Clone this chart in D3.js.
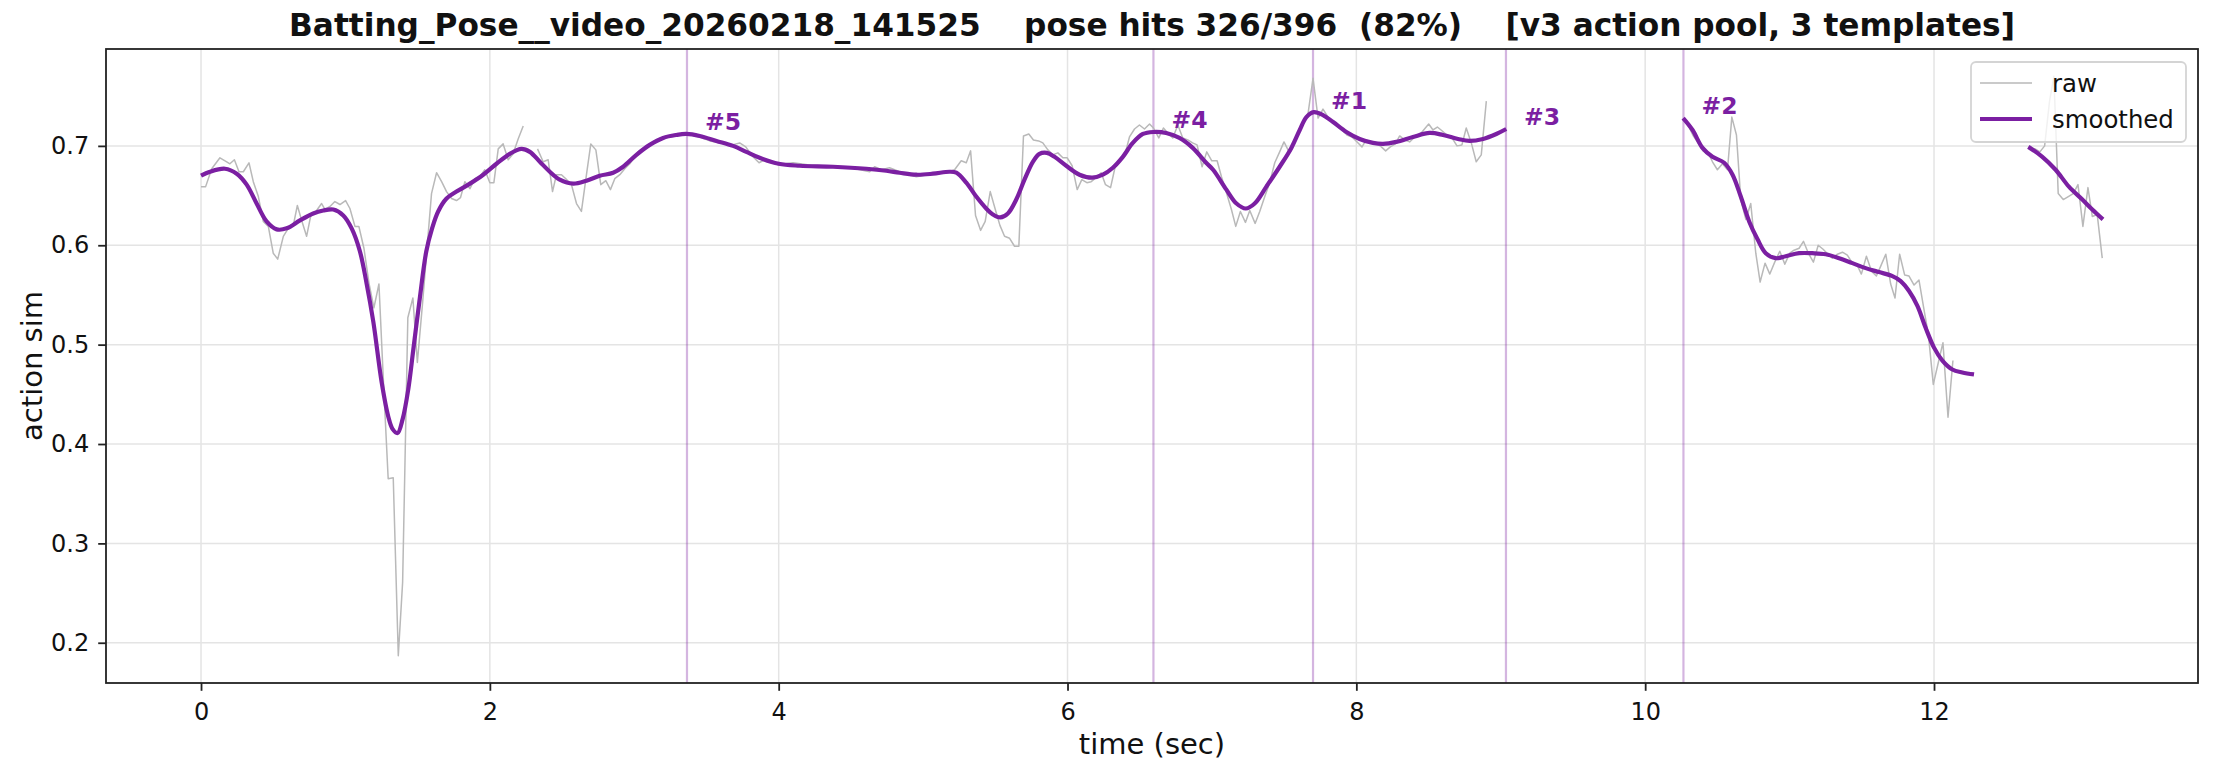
<!DOCTYPE html>
<html><head><meta charset="utf-8">
<script src="https://cdn.jsdelivr.net/npm/d3@7"></script>
<style>body{margin:0;background:#fff}svg{display:block}</style>
</head><body>
<svg id="chart" width="2213" height="775"></svg>
<script>
// ---------- data ----------
const titleText = "Batting_Pose__video_20260218_141525    pose hits 326/396  (82%)    [v3 action pool, 3 templates]";
const xTicks = [0, 2, 4, 6, 8, 10, 12];
const yTicks = [0.2, 0.3, 0.4, 0.5, 0.6, 0.7];

const rawTime = [0.000,0.032,0.074,0.131,0.178,0.200,0.231,0.263,0.293,0.332,0.362,0.397,0.431,0.466,0.500,0.531,0.570,0.604,0.639,0.667,0.697,0.731,0.759,0.800,0.835,0.858,0.893,0.927,0.962,1.001,1.031,1.066,1.093,1.128,1.163,1.197,1.232,1.264,1.296,1.331,1.366,1.396,1.432,1.467,1.498,1.533,1.566,1.596,1.631,1.666,1.700,1.735,1.769,1.797,1.827,1.862,1.896,1.931,1.965,2.000,2.028,2.058,2.092,2.127,2.161,2.196,2.231,2.264,2.330,2.369,2.404,2.434,2.461,2.496,2.526,2.565,2.600,2.634,2.669,2.699,2.734,2.768,2.803,2.835,2.865,2.900,2.934,2.969,3.026,3.107,3.200,3.292,3.361,3.453,3.523,3.600,3.680,3.730,3.772,3.822,3.864,3.903,3.949,4.000,4.099,4.200,4.300,4.400,4.500,4.630,4.664,4.710,4.768,4.837,4.953,5.068,5.160,5.218,5.264,5.299,5.329,5.363,5.398,5.430,5.465,5.500,5.532,5.564,5.599,5.633,5.663,5.695,5.732,5.764,5.800,5.829,5.864,5.898,5.933,5.968,5.998,6.032,6.067,6.099,6.134,6.164,6.198,6.233,6.263,6.298,6.330,6.365,6.395,6.429,6.464,6.498,6.533,6.568,6.595,6.632,6.664,6.694,6.729,6.764,6.798,6.833,6.866,6.897,6.932,6.964,6.999,7.036,7.066,7.100,7.135,7.165,7.197,7.232,7.262,7.299,7.331,7.366,7.400,7.435,7.469,7.499,7.534,7.569,7.601,7.636,7.666,7.700,7.735,7.769,7.804,7.839,7.873,7.903,7.935,7.970,8.005,8.039,8.069,8.104,8.138,8.173,8.203,8.235,8.270,8.300,8.334,8.369,8.404,8.438,8.466,8.501,8.531,8.561,8.595,8.627,8.662,8.697,8.731,8.761,8.796,8.830,8.865,8.900,8.933,10.268,10.300,10.333,10.366,10.400,10.443,10.466,10.500,10.535,10.570,10.600,10.632,10.662,10.697,10.731,10.766,10.796,10.830,10.863,10.897,10.932,10.967,11.001,11.031,11.066,11.096,11.130,11.165,11.198,11.232,11.266,11.296,11.331,11.366,11.400,11.435,11.465,11.497,11.532,11.567,11.601,11.631,11.666,11.700,11.730,11.762,11.797,11.827,11.862,11.896,11.931,11.961,11.995,12.030,12.062,12.097,12.131,12.164,12.653,12.700,12.733,12.766,12.800,12.830,12.860,12.895,12.930,12.964,12.997,13.031,13.066,13.096,13.130,13.165];
const rawValue = [0.659,0.659,0.677,0.688,0.684,0.682,0.686,0.674,0.674,0.683,0.664,0.649,0.624,0.619,0.592,0.586,0.609,0.617,0.620,0.640,0.625,0.609,0.629,0.635,0.642,0.636,0.639,0.644,0.641,0.645,0.637,0.619,0.619,0.597,0.562,0.537,0.561,0.460,0.365,0.366,0.187,0.261,0.527,0.547,0.482,0.540,0.599,0.652,0.673,0.664,0.654,0.647,0.645,0.648,0.664,0.657,0.667,0.669,0.676,0.663,0.663,0.697,0.702,0.686,0.692,0.707,0.720,null,0.697,0.684,0.686,0.654,0.671,0.671,0.667,0.661,0.642,0.634,0.671,0.702,0.696,0.661,0.665,0.656,0.667,0.671,0.677,0.682,0.694,0.702,0.709,0.712,0.712,0.709,0.705,0.703,0.701,0.703,0.699,0.689,0.683,0.686,0.683,0.681,0.683,0.681,0.680,0.679,0.678,0.674,0.679,0.676,0.678,0.674,0.669,0.672,0.673,0.676,0.685,0.683,0.695,0.630,0.615,0.624,0.654,0.636,0.620,0.609,0.607,0.599,0.599,0.710,0.712,0.706,0.705,0.703,0.696,0.691,0.693,0.688,0.688,0.680,0.656,0.666,0.663,0.664,0.668,0.673,0.661,0.658,0.679,0.686,0.690,0.709,0.717,0.721,0.717,0.722,0.718,0.708,0.718,0.713,0.708,0.721,0.708,0.706,0.703,0.701,0.679,0.694,0.685,0.685,0.669,0.653,0.636,0.619,0.634,0.623,0.635,0.622,0.634,0.649,0.663,0.683,0.694,0.704,0.694,0.703,0.713,0.726,0.733,0.768,0.728,0.737,0.729,0.724,0.719,0.716,0.711,0.709,0.704,0.699,0.706,0.703,0.703,0.699,0.695,0.699,0.702,0.710,0.706,0.704,0.709,0.711,0.716,0.722,0.716,0.719,0.715,0.711,0.708,0.700,0.701,0.718,0.703,0.684,0.691,0.745,null,0.727,0.720,0.710,0.703,0.695,0.691,0.684,0.676,0.682,0.676,0.729,0.711,0.646,0.626,0.642,0.592,0.563,0.582,0.571,0.583,0.594,0.581,0.592,0.595,0.597,0.604,0.592,0.583,0.600,0.596,0.591,0.587,0.591,0.593,0.590,0.582,0.581,0.571,0.589,0.574,0.569,0.579,0.591,0.561,0.547,0.591,0.570,0.569,0.560,0.565,0.535,0.510,0.460,0.482,0.502,0.427,0.484,null,0.699,0.697,0.694,0.700,0.745,0.770,0.652,0.646,0.649,0.652,0.661,0.619,0.658,0.629,0.631,0.587];

const smoothTime = [0.000,0.062,0.166,0.247,0.316,0.385,0.454,0.524,0.593,0.685,0.777,0.847,0.916,0.985,1.043,1.100,1.146,1.193,1.251,1.296,1.327,1.361,1.396,1.435,1.470,1.516,1.560,1.600,1.642,1.700,1.769,1.862,1.954,2.046,2.138,2.219,2.277,2.346,2.415,2.484,2.577,2.669,2.761,2.854,2.923,3.015,3.107,3.200,3.292,3.361,3.453,3.569,3.684,3.776,3.868,4.000,4.145,4.376,4.607,4.745,4.837,4.953,5.068,5.183,5.230,5.299,5.368,5.437,5.483,5.534,5.587,5.645,5.702,5.760,5.806,5.857,5.910,5.991,6.083,6.171,6.245,6.314,6.383,6.452,6.522,6.595,6.683,6.775,6.867,6.960,7.008,7.100,7.170,7.234,7.296,7.377,7.469,7.550,7.608,7.654,7.705,7.769,7.839,7.931,8.023,8.115,8.185,8.277,8.392,8.508,8.600,8.704,8.784,8.877,8.969,9.038,9.100,10.263,10.328,10.397,10.466,10.547,10.605,10.662,10.720,10.778,10.835,10.904,10.973,11.066,11.158,11.250,11.343,11.435,11.527,11.619,11.712,11.769,11.827,11.885,11.942,12.000,12.058,12.127,12.196,12.277,12.400,12.653,12.750,12.842,12.934,13.027,13.096,13.170];
const smoothValue = [0.670,0.674,0.677,0.672,0.661,0.642,0.624,0.616,0.617,0.625,0.632,0.635,0.636,0.630,0.617,0.594,0.562,0.523,0.462,0.428,0.415,0.411,0.425,0.455,0.495,0.548,0.594,0.617,0.634,0.647,0.654,0.662,0.671,0.682,0.692,0.697,0.694,0.684,0.674,0.666,0.662,0.665,0.670,0.673,0.679,0.691,0.701,0.708,0.711,0.712,0.710,0.705,0.700,0.694,0.688,0.682,0.680,0.679,0.677,0.675,0.673,0.671,0.672,0.674,0.673,0.663,0.649,0.637,0.631,0.628,0.632,0.646,0.666,0.684,0.692,0.693,0.689,0.680,0.671,0.668,0.671,0.678,0.689,0.703,0.712,0.714,0.713,0.708,0.698,0.683,0.676,0.656,0.642,0.637,0.642,0.659,0.679,0.698,0.716,0.729,0.734,0.731,0.724,0.714,0.707,0.703,0.702,0.704,0.709,0.713,0.711,0.707,0.705,0.707,0.712,0.717,null,0.728,0.716,0.698,0.689,0.683,0.671,0.649,0.624,0.606,0.592,0.587,0.589,0.592,0.592,0.591,0.587,0.582,0.577,0.573,0.569,0.564,0.554,0.539,0.517,0.497,0.484,0.475,0.472,0.470,null,0.699,0.689,0.676,0.659,0.646,0.636,0.626];

const peakRank = ["#1", "#2", "#3", "#4", "#5"];
const peakTime = [7.700, 10.265, 9.036, 6.595, 3.365];
const peakValue = [0.733, 0.728, 0.717, 0.714, 0.712];

const legendLabels = ["raw", "smoothed"];

// ---------- layout ----------
const W = 2213, H = 775;
const M = {left: 106, right: 2198, top: 49, bottom: 683};
const PURPLE = "#7b1fa2";
const RAWC = "#b9b9b9";
const FONT = "'DejaVu Sans', 'Liberation Sans', sans-serif";

const svg = d3.select("#chart");
svg.append("rect").attr("width", W).attr("height", H).attr("fill", "#fff");

const x = d3.scaleLinear().domain([-0.658, 13.828]).range([M.left, M.right]);
const y = d3.scaleLinear().domain([0.1595, 0.7975]).range([M.bottom, M.top]);

svg.append("defs").append("clipPath").attr("id", "clip")
  .append("rect").attr("x", M.left).attr("y", M.top)
  .attr("width", M.right - M.left).attr("height", M.bottom - M.top);

// grid
const grid = svg.append("g");
grid.selectAll(".gx").data(xTicks).join("line")
  .attr("x1", d => x(d)).attr("x2", d => x(d))
  .attr("y1", M.top).attr("y2", M.bottom)
  .attr("stroke", "#e4e4e4").attr("stroke-width", 1.5);
grid.selectAll(".gy").data(yTicks).join("line")
  .attr("x1", M.left).attr("x2", M.right)
  .attr("y1", d => y(d)).attr("y2", d => y(d))
  .attr("stroke", "#e4e4e4").attr("stroke-width", 1.5);

const plot = svg.append("g").attr("clip-path", "url(#clip)");

// peak vertical lines
const peaks = peakRank.map((r, i) => ({r, t: peakTime[i], v: peakValue[i]}));
plot.selectAll(".pk").data(peaks).join("line")
  .attr("x1", d => x(d.t)).attr("x2", d => x(d.t))
  .attr("y1", M.top).attr("y2", M.bottom)
  .attr("stroke", PURPLE).attr("stroke-opacity", 0.33).attr("stroke-width", 2.2);

// raw
const rawData = rawTime.map((t, i) => ({t, v: rawValue[i]}));
const rawLine = d3.line().defined(d => d.v !== null).x(d => x(d.t)).y(d => y(d.v));
plot.append("path").attr("d", rawLine(rawData))
  .attr("fill", "none").attr("stroke", RAWC).attr("stroke-width", 1.5)
  .attr("stroke-linejoin", "round");

// smoothed
const smData = smoothTime.map((t, i) => ({t, v: smoothValue[i]}));
const smLine = d3.line().defined(d => d.v !== null).curve(d3.curveCatmullRom.alpha(0.5))
  .x(d => x(d.t)).y(d => y(d.v));
plot.append("path").attr("d", smLine(smData))
  .attr("fill", "none").attr("stroke", PURPLE).attr("stroke-width", 4.2)
  .attr("stroke-linejoin", "round").attr("stroke-linecap", "butt");

// peak labels
svg.selectAll(".pl").data(peaks).join("text")
  .attr("x", d => x(d.t) + 18).attr("y", d => y(d.v) - 4)
  .attr("font-family", FONT).attr("font-weight", "bold").attr("font-size", 23.5)
  .attr("fill", PURPLE).text(d => d.r);

// axes
const xAxis = d3.axisBottom(x).tickValues(xTicks).tickFormat(d3.format("d"))
  .tickSize(7.8).tickPadding(12.2);
const gx = svg.append("g").attr("transform", `translate(0,${M.bottom})`).call(xAxis);
const yAxis = d3.axisLeft(y).tickValues(yTicks).tickFormat(d3.format(".1f"))
  .tickSize(7.8).tickPadding(9);
const gy = svg.append("g").attr("transform", `translate(${M.left},0)`).call(yAxis);
[gx, gy].forEach(g => {
  g.select(".domain").remove();
  g.selectAll(".tick line").attr("stroke", "#222").attr("stroke-width", 1.8);
  g.selectAll(".tick text").attr("font-family", FONT).attr("font-size", 24).attr("fill", "#111");
});

// spines
svg.append("rect").attr("x", M.left).attr("y", M.top)
  .attr("width", M.right - M.left).attr("height", M.bottom - M.top)
  .attr("fill", "none").attr("stroke", "#222").attr("stroke-width", 1.8);

// axis labels
svg.append("text").attr("x", (M.left + M.right) / 2).attr("y", 754)
  .attr("text-anchor", "middle").attr("font-family", FONT).attr("font-size", 29)
  .attr("fill", "#111").text("time (sec)");
svg.append("text").attr("transform", `translate(42,${(M.top + M.bottom) / 2}) rotate(-90)`)
  .attr("text-anchor", "middle").attr("font-family", FONT).attr("font-size", 29)
  .attr("fill", "#111").text("action sim");

// title
svg.append("text").attr("x", (M.left + M.right) / 2).attr("y", 36)
  .attr("text-anchor", "middle").attr("font-family", FONT).attr("font-weight", "bold")
  .attr("font-size", 31.2).attr("fill", "#111").style("white-space", "pre")
  .attr("xml:space", "preserve").text(titleText);

// legend
const lg = svg.append("g");
lg.append("rect").attr("x", 1971).attr("y", 62).attr("width", 215).attr("height", 80)
  .attr("rx", 5).attr("fill", "#fff").attr("fill-opacity", 0.8)
  .attr("stroke", "#d4d4d4").attr("stroke-width", 1.8);
const lgItems = legendLabels.map((l, i) => ({l, c: i === 0 ? RAWC : PURPLE, w: i === 0 ? 1.5 : 4.2, yy: 83 + i * 36}));
lg.selectAll(".ll").data(lgItems).join("line")
  .attr("x1", 1980).attr("x2", 2032).attr("y1", d => d.yy).attr("y2", d => d.yy)
  .attr("stroke", d => d.c).attr("stroke-width", d => d.w);
lg.selectAll(".lt").data(lgItems).join("text")
  .attr("x", 2052).attr("y", d => d.yy + 9)
  .attr("font-family", FONT).attr("font-size", 24.4).attr("fill", "#111").text(d => d.l);
</script>
</body></html>
